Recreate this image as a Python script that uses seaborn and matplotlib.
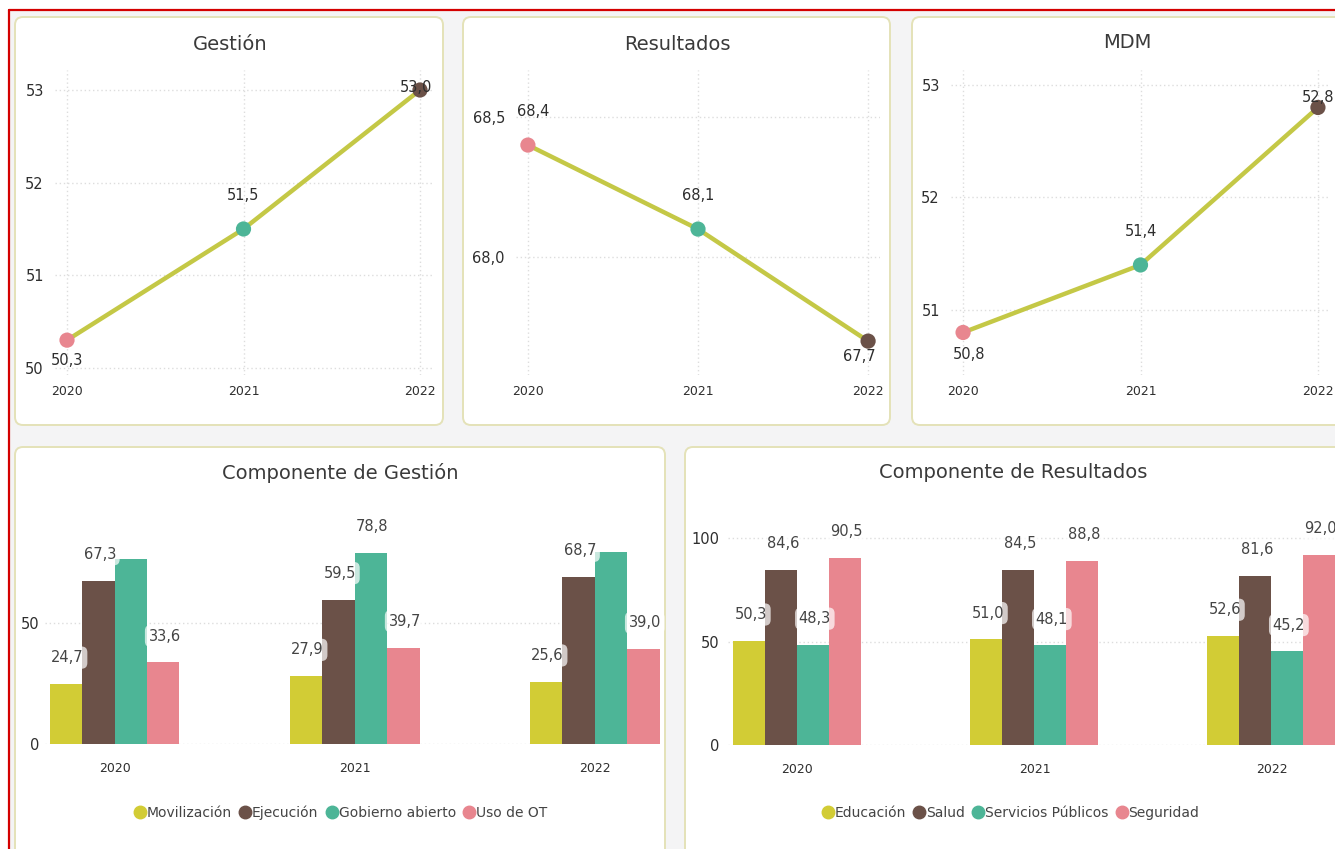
import matplotlib
matplotlib.use("Agg")
import numpy as np
import pandas as pd
import seaborn as sns
import matplotlib.pyplot as plt
from matplotlib.patches import FancyBboxPatch, Rectangle
from matplotlib.lines import Line2D
from matplotlib.ticker import FixedLocator

# --- data -------------------------------------------------------------
years = ["2020", "2021", "2022"]

gestion = [50.3, 51.5, 53.0]
resultados = [68.4, 68.1, 67.7]
mdm = [50.8, 51.4, 52.8]

gestion_names = ["Movilización", "Ejecución", "Gobierno abierto", "Uso de OT"]
movilizacion = [24.7, 27.9, 25.6]
ejecucion = [67.3, 59.5, 68.7]
gobierno_abierto = [76.1, 78.8, 78.9]
uso_ot = [33.6, 39.7, 39.0]

resultados_names = ["Educación", "Salud", "Servicios Públicos", "Seguridad"]
educacion = [50.3, 51.0, 52.6]
salud = [84.6, 84.5, 81.6]
servicios = [48.3, 48.1, 45.2]
seguridad = [90.5, 88.8, 92.0]

# --- style ------------------------------------------------------------
point_colors = ["#e8868f", "#4db597", "#6b5148"]
bar_colors = ["#d2cc35", "#6b5148", "#4db597", "#e8868f"]
line_color = "#c4c846"
text_color = "#2e2e2e"
grid_color = "#dddddd"

sns.set_style("white")
plt.rcParams["font.family"] = ["DejaVu Sans"]

W, H = 1335, 849
fig = plt.figure(figsize=(W / 100, H / 100), dpi=100)
fig.patch.set_facecolor("white")


def px_axes(l, t, r, b):
    ax = fig.add_axes([l / W, 1 - b / H, (r - l) / W, (b - t) / H])
    ax.set_facecolor("none")
    for s in ax.spines.values():
        s.set_visible(False)
    return ax


def box(l, t, r, b, **kw):
    p = FancyBboxPatch((l / 100, (H - b) / 100), (r - l) / 100, (b - t) / 100,
                       boxstyle="round,pad=0,rounding_size=0.08",
                       transform=fig.dpi_scale_trans, zorder=-1, **kw)
    fig.add_artist(p)


def fmt(v):
    return f"{v:.1f}".replace(".", ",")


# background, red frame and panels
fig.add_artist(Rectangle((9 / 100, 0), (W - 9) / 100, (H - 10) / 100,
                         transform=fig.dpi_scale_trans, facecolor="#f4f4f5",
                         edgecolor="none", zorder=-2))
fig.add_artist(Line2D([9 / W, 1], [1 - 10 / H, 1 - 10 / H], color="#d40000", lw=1.6))
fig.add_artist(Line2D([9 / W, 9 / W], [0, 1 - 10 / H], color="#d40000", lw=1.6))

panel_kw = dict(facecolor="white", edgecolor="#e4e2b8", lw=1.4)
box(15, 17, 443, 425, **panel_kw)
box(463, 17, 890, 425, **panel_kw)
box(912, 17, 1345, 425, **panel_kw)
box(15, 447, 665, 860, **panel_kw)
box(685, 447, 1345, 860, **panel_kw)


def line_panel(rect, values, title, title_xy, ylim, xlim, yticks, ytick_labels, offsets):
    ax = px_axes(*rect)
    df = pd.DataFrame({"year": years, "value": values})
    sns.lineplot(data=df, x="year", y="value", ax=ax, color=line_color, lw=3.2)
    sns.scatterplot(data=df, x="year", y="value", hue="year", palette=point_colors,
                    s=120, edgecolor="none", legend=False, ax=ax, zorder=3, clip_on=False)
    ax.set_xlim(*xlim)
    ax.set_ylim(*ylim)
    ax.yaxis.set_major_locator(FixedLocator(yticks))
    ax.set_yticklabels(ytick_labels)
    ax.grid(True, color=grid_color, ls=(0, (1, 2)), lw=1)
    ax.set_xlabel("")
    ax.set_ylabel("")
    ax.tick_params(axis="y", length=0, pad=8, labelsize=10.5, labelcolor=text_color)
    ax.tick_params(axis="x", length=0, pad=7, labelsize=9, labelcolor=text_color)
    for i, (v, off) in enumerate(zip(values, offsets)):
        ax.annotate(fmt(v), (i, v), xytext=off, textcoords="offset points",
                    ha="center", va="center", fontsize=10.5, color=text_color,
                    annotation_clip=False)
    fig.text(title_xy[0] / W, 1 - title_xy[1] / H, title, ha="center", va="center",
             fontsize=14, color="#3a3a3a")
    return ax


line_panel((55, 70, 432, 375), gestion, "Gestión", (230, 45),
           (49.924, 53.216), (-0.068, 2.068), [50, 51, 52, 53],
           ["50", "51", "52", "53"], [(0, -15), (0, 24), (-3, 2)])
line_panel((516, 70, 880, 375), resultados, "Resultados", (677, 45),
           (67.579, 68.668), (-0.07, 2.07), [68.0, 68.5],
           ["68,0", "68,5"], [(4, 24), (0, 24), (-6, -11)])
line_panel((951, 70, 1330, 375), mdm, "MDM", (1127, 43),
           (50.422, 53.133), (-0.068, 2.068), [51, 52, 53],
           ["51", "52", "53"], [(4, -16), (0, 24), (0, 7)])


def bar_panel(rect, names, series, title, title_xy, ylim, xlim, yticks, ypad,
              legend_xy, hidden):
    ax = px_axes(*rect)
    df = pd.DataFrame({
        "year": years * len(names),
        "component": np.repeat(names, len(years)),
        "value": np.concatenate(series),
    })
    sns.barplot(data=df, x="year", y="value", hue="component", hue_order=names,
                palette=bar_colors, width=0.54, saturation=1, linewidth=0,
                legend=False, ax=ax)
    ax.set_xlim(*xlim)
    ax.set_ylim(*ylim)
    ax.set_yticks(yticks)
    ax.yaxis.grid(True, color=grid_color, ls=(0, (1, 2)), lw=1)
    ax.set_axisbelow(True)
    ax.set_xlabel("")
    ax.set_ylabel("")
    ax.tick_params(axis="y", length=0, pad=ypad, labelsize=10.5, labelcolor=text_color)
    ax.tick_params(axis="x", length=0, pad=13, labelsize=9, labelcolor=text_color)
    for si, cont in enumerate(ax.containers):
        for yi, bar in enumerate(cont):
            if (si, yi) in hidden:
                continue
            h = bar.get_height()
            ax.annotate(fmt(h), (bar.get_x() + bar.get_width() / 2, h),
                        xytext=(1, 19), textcoords="offset points", ha="center",
                        va="center", fontsize=10.5, color="#444444",
                        annotation_clip=False,
                        bbox=dict(boxstyle="round,pad=0.25,rounding_size=0.4",
                                  fc="white", ec="none", alpha=0.7))
    fig.text(title_xy[0] / W, 1 - title_xy[1] / H, title, ha="center", va="center",
             fontsize=14, color="#3a3a3a")
    handles = [Line2D([], [], marker="o", ls="none", color=c, markersize=9)
               for c in bar_colors]
    fig.legend(handles, names, loc="center", ncol=4, frameon=False,
               bbox_to_anchor=(legend_xy[0] / W, 1 - legend_xy[1] / H),
               handletextpad=0.0, columnspacing=0.45, handlelength=1.0,
               fontsize=10, labelcolor="#444444")
    return ax


bar_panel((45, 540, 662, 744), gestion_names,
          [movilizacion, ejecucion, gobierno_abierto, uso_ot],
          "Componente de Gestión", (340, 473), (0, 84), (-0.29, 2.28), [0, 50], 4,
          (340, 813), {(2, 0), (2, 2)})
bar_panel((728, 530, 1335, 745), resultados_names,
          [educacion, salud, servicios, seguridad],
          "Componente de Resultados", (1013, 473), (0, 103.9), (-0.293, 2.268),
          [0, 50, 100], 6, (1010, 813), set())

fig.savefig("out.png", dpi=100, facecolor=fig.get_facecolor())
